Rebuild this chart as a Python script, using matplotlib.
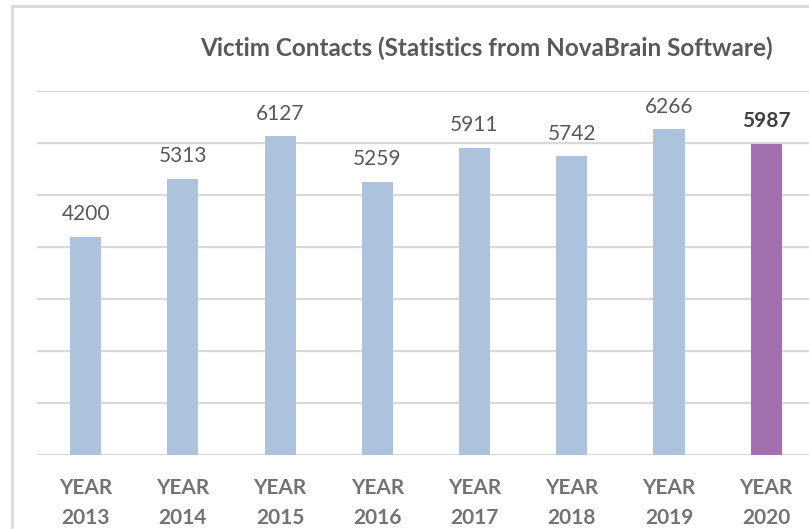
import matplotlib.pyplot as plt
from matplotlib.patches import Rectangle

years = ["2013", "2014", "2015", "2016", "2017", "2018", "2019", "2020"]
contacts = [4200, 5313, 6127, 5259, 5911, 5742, 6266, 5987]
bar_colors = ["#adc3dd"] * 7 + ["#a26fb0"]
tick_labels = ["YEAR\n" + y for y in years]

plt.rcParams['font.family'] = ['Lato', 'DejaVu Sans']

fig = plt.figure(figsize=(8.09, 5.29), dpi=100)
W, H = 809, 529

# light frame round the chart (left and top edges visible)
fig.patches.append(Rectangle((12 / W, -0.1), 1.0, 1.1 - 6 / H,
                             transform=fig.transFigure, fill=False,
                             edgecolor="#d9d9d9", linewidth=2))

ax = fig.add_axes([37 / W, 74 / H, 1 - 37 / W, (455 - 91) / H])
x = range(len(years))
ax.bar(x, contacts, width=0.32, color=bar_colors, zorder=3)
ax.set_ylim(0, 7000)
ax.set_xlim(-0.5, 7.44)
ax.set_yticks(range(0, 7001, 1000))
ax.yaxis.grid(True, color="#d9d9d9", linewidth=1.6, zorder=0)
ax.tick_params(axis="y", left=False, labelleft=False)
ax.tick_params(axis="x", bottom=False, pad=13)
ax.set_xticks(list(x))
ax.set_xticklabels(tick_labels, fontsize=15, fontweight="bold",
                   color="#737373", linespacing=1.6)
for s in ax.spines.values():
    s.set_visible(False)

for i, v in enumerate(contacts):
    last = i == len(contacts) - 1
    ax.annotate(str(v), (i, v), xytext=(0, 9), textcoords="offset points",
                ha="center", va="bottom", fontsize=15,
                fontweight="bold" if last else "normal",
                color="#404040" if last else "#595959")

fig.text(486 / W, 1 - 48 / H,
         "Victim Contacts (Statistics from NovaBrain Software)",
         ha="center", va="center", fontsize=17.5, fontweight="bold",
         color="#595959")

fig.savefig("out.png", dpi=100)
